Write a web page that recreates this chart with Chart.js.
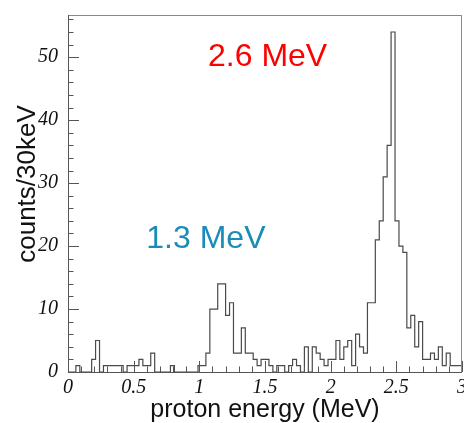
<!DOCTYPE html>
<html>
<head>
<meta charset="utf-8">
<script src="https://cdn.jsdelivr.net/npm/chart.js@4.4.1/dist/chart.umd.min.js"></script>
<style>
  html, body { margin: 0; padding: 0; background: #fff; }
  #wrap { width: 464px; height: 423px; }
</style>
</head>
<body>
<div id="wrap"><canvas id="hist" width="464" height="423"></canvas></div>
<script>
// ---- Data ----
const binWidth = 0.03;          // MeV, 30 keV bins starting at 0
const counts = [
  2, 0, 0, 1, 0, 0, 0, 2, 5, 0,
  1, 1, 1, 1, 1, 0, 1, 1, 1, 2,
  1, 1, 3, 0, 0, 0, 0, 1, 0, 0,
  0, 0, 0, 0, 1, 1, 3, 10, 10, 14,
  14, 9, 11, 3, 3, 7, 3, 3, 2, 1,
  2, 2, 1, 0, 1, 1, 0, 1, 2, 1,
  0, 4, 0, 4, 3, 2, 1, 2, 2, 5,
  2, 4, 5, 1, 6, 4, 3, 11, 11, 21,
  24, 31, 36, 54, 24, 20, 19, 7, 9, 4,
  8, 2, 2, 3, 2, 4, 1, 3, 1, 1
];
const xMajor = [0, 0.5, 1, 1.5, 2, 2.5, 3];
const yMajor = [0, 10, 20, 30, 40, 50];
const xRange = [0, 3];
const yRange = [0, 56.7];

// peak annotations: [text, x (MeV), y (counts), colour]
const notes = [
  ['2.6 MeV', 1.52, 50.0, '#ff0000'],
  ['1.3 MeV', 1.05, 21.1, '#1a8cb8']
];

// step outline points: one per bin edge, last one closes the final bin
const points = counts.map((c, i) => ({ x: i * binWidth, y: c }));
points.push({ x: counts.length * binWidth, y: counts[counts.length - 1] });

const isMajor = (v, list) => list.some(m => Math.abs(m - v) < 1e-6);

// ---- ROOT-like frame: inward ticks, gray box, y title, peak labels ----
const rootFrame = {
  id: 'rootFrame',
  afterDraw(chart) {
    const { ctx, chartArea: a, scales: { x, y } } = chart;
    ctx.save();
    ctx.lineWidth = 1;
    ctx.strokeStyle = '#8a8a8a';
    ctx.strokeRect(a.left + 0.5, a.top + 0.5, a.right - a.left - 1, a.bottom - a.top);

    ctx.strokeStyle = '#555';
    ctx.beginPath();
    ctx.moveTo(a.left + 0.5, a.top);
    ctx.lineTo(a.left + 0.5, a.bottom + 0.5);
    ctx.lineTo(a.right, a.bottom + 0.5);
    x.ticks.forEach(t => {
      const px = Math.round(x.getPixelForValue(t.value)) + 0.5;
      const len = isMajor(t.value, xMajor) ? 11 : 5.5;
      ctx.moveTo(px, a.bottom);
      ctx.lineTo(px, a.bottom - len);
    });
    y.ticks.forEach(t => {
      const py = Math.round(y.getPixelForValue(t.value)) + 0.5;
      const len = isMajor(t.value, yMajor) ? 11 : 5.5;
      ctx.moveTo(a.left, py);
      ctx.lineTo(a.left + len, py);
    });
    ctx.stroke();

    // y title, rotated
    ctx.fillStyle = '#111';
    ctx.font = '26px "Liberation Sans", Arial, sans-serif';
    ctx.textAlign = 'center';
    ctx.textBaseline = 'middle';
    ctx.translate(28, 184);
    ctx.rotate(-Math.PI / 2);
    ctx.fillText('counts/30keV', 0, 0);
    ctx.setTransform(1, 0, 0, 1, 0, 0);

    // peak labels
    ctx.font = '32px "Liberation Sans", Arial, sans-serif';
    notes.forEach(([txt, nx, ny, col]) => {
      ctx.fillStyle = col;
      ctx.fillText(txt, x.getPixelForValue(nx), y.getPixelForValue(ny));
    });
    ctx.restore();
  }
};

const tickFont = { family: '"Liberation Serif", "Times New Roman", serif', style: 'italic', size: 20 };

new Chart(document.getElementById('hist'), {
  type: 'line',
  data: {
    datasets: [{
      data: points,
      stepped: 'after',
      borderColor: '#4a4a4a',
      borderWidth: 1.2,
      pointRadius: 0,
      fill: false
    }]
  },
  options: {
    responsive: false,
    animation: false,
    devicePixelRatio: 1,
    layout: { padding: { left: 0, right: 2, top: 15, bottom: 0 } },
    plugins: { legend: { display: false }, tooltip: { enabled: false } },
    scales: {
      x: {
        type: 'linear',
        min: xRange[0],
        max: xRange[1],
        grid: { display: false, drawTicks: false },
        border: { display: false },
        ticks: {
          stepSize: 0.1,
          autoSkip: false,
          maxRotation: 0,
          includeBounds: false,
          padding: 4,
          color: '#111',
          font: tickFont,
          callback: v => isMajor(v, xMajor) ? String(Math.round(v * 10) / 10) : ''
        },
        title: {
          display: true,
          text: 'proton energy (MeV)',
          color: '#111',
          font: { family: '"Liberation Sans", Arial, sans-serif', size: 25, lineHeight: 1 },
          padding: { top: 0, bottom: 0 }
        },
        afterFit: s => { s.height = 51; s.paddingLeft = 0; s.paddingRight = 0; }
      },
      y: {
        min: yRange[0],
        max: yRange[1],
        grid: { display: false, drawTicks: false },
        border: { display: false },
        ticks: {
          stepSize: 2,
          autoSkip: false,
          includeBounds: false,
          padding: 10,
          color: '#111',
          font: tickFont,
          callback: v => isMajor(v, yMajor) ? String(v) : ''
        },
        afterFit: s => { s.width = 68; s.paddingTop = 0; s.paddingBottom = 0; }
      }
    }
  },
  plugins: [rootFrame]
});
</script>
</body>
</html>
